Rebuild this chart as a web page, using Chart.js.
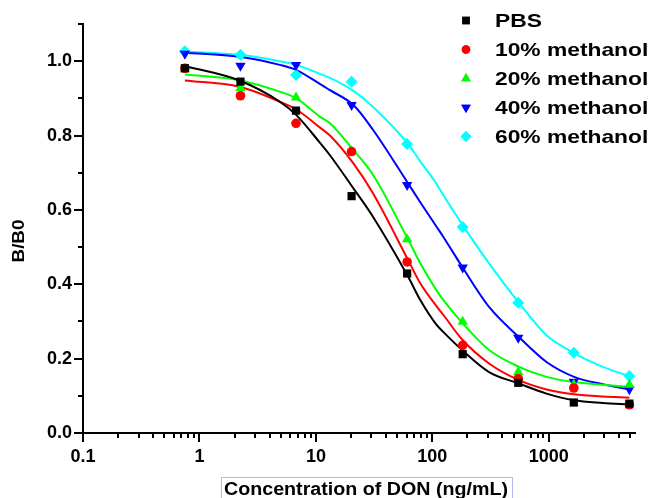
<!DOCTYPE html>
<html>
<head>
<meta charset="utf-8">
<script src="https://cdn.jsdelivr.net/npm/chart.js@4.4.1/dist/chart.umd.min.js"></script>
<style>
  html, body { margin: 0; padding: 0; background: #fff; }
  #wrap { width: 650px; height: 498px; position: relative; }
</style>
</head>
<body>
<div id="wrap"><canvas id="chart" width="650" height="498"></canvas></div>
<script>
// Measured concentrations (ng/mL) and B/B0 values
const concentrations = [0.75, 2.25, 6.75, 20.25, 60.75, 182.25, 546.75, 1640.25, 4920.75];
const pbs       = [0.981, 0.945, 0.867, 0.637, 0.429, 0.212, 0.135, 0.082, 0.079];
const meth10    = [0.981, 0.907, 0.833, 0.757, 0.460, 0.236, 0.146, 0.121, 0.076];
const meth20    = [0.978, 0.928, 0.902, 0.757, 0.521, 0.299, 0.164, 0.130, 0.130];
const meth40    = [1.020, 0.988, 0.990, 0.882, 0.667, 0.445, 0.256, 0.138, 0.118];
const meth60    = [1.027, 1.017, 0.963, 0.945, 0.777, 0.554, 0.350, 0.216, 0.153];

// Fitted curves
const curveX     = [0.75, 2.2, 4.9, 6.8, 10.8, 13.2, 21, 31, 62, 79, 108, 124, 182, 307, 554, 956, 1650, 2910, 4920];
const pbsFit     = [0.987, 0.948, 0.891, 0.855, 0.781, 0.747, 0.658, 0.581, 0.420, 0.357, 0.292, 0.272, 0.222, 0.164, 0.133, 0.106, 0.088, 0.081, 0.077];
const meth10Fit  = [0.948, 0.931, 0.891, 0.870, 0.822, 0.800, 0.725, 0.644, 0.465, 0.402, 0.342, 0.318, 0.250, 0.187, 0.142, 0.117, 0.104, 0.098, 0.095];
const meth20Fit  = [0.964, 0.949, 0.918, 0.900, 0.851, 0.833, 0.761, 0.694, 0.520, 0.456, 0.385, 0.358, 0.295, 0.223, 0.178, 0.151, 0.137, 0.130, 0.124];
const meth40Fit  = [1.023, 1.012, 0.990, 0.976, 0.939, 0.922, 0.882, 0.815, 0.671, 0.620, 0.556, 0.528, 0.445, 0.339, 0.258, 0.191, 0.151, 0.131, 0.117];
const meth60Fit  = [1.026, 1.017, 1.000, 0.990, 0.966, 0.955, 0.920, 0.877, 0.777, 0.730, 0.671, 0.640, 0.559, 0.456, 0.350, 0.263, 0.215, 0.178, 0.153];

const seriesNames = ['PBS', '10% methanol', '20% methanol', '40% methanol', '60% methanol'];
const xTickLabels = ['0.1', '1', '10', '100', '1000'];
const yTickLabels = ['0.0', '0.2', '0.4', '0.6', '0.8', '1.0'];

const colors = ['#000000', '#ff0000', '#00ff00', '#0000ff', '#00ffff'];
const styles = [
    { pointStyle: 'rect', radius: 5.8, rotation: 0 },
    { pointStyle: 'circle', radius: 4.8, rotation: 0 },
    { pointStyle: 'triangle', radius: 6, rotation: 0 },
    { pointStyle: 'triangle', radius: 6, rotation: 180 },
    { pointStyle: 'rectRot', radius: 6, rotation: 0 }
];

const pointSets = [pbs, meth10, meth20, meth40, meth60];
const fitSets = [pbsFit, meth10Fit, meth20Fit, meth40Fit, meth60Fit];

const toXY = (xs, ys) => xs.map((x, i) => ({ x: x, y: ys[i] }));

const datasets = [];
fitSets.forEach((fit, i) => {
    datasets.push({
        label: seriesNames[i] + ' fit',
        data: toXY(curveX, fit),
        showLine: true,
        borderColor: colors[i],
        borderWidth: 2,
        pointRadius: 0,
        cubicInterpolationMode: 'monotone',
        order: 2
    });
});
pointSets.forEach((vals, i) => {
    datasets.push({
        label: seriesNames[i],
        data: toXY(concentrations, vals),
        showLine: false,
        backgroundColor: colors[i],
        borderColor: colors[i],
        borderWidth: 0,
        pointStyle: styles[i].pointStyle,
        pointRadius: styles[i].radius,
        pointRotation: styles[i].rotation,
        order: 1
    });
});

const FONT = 'Liberation Sans, Arial, sans-serif';

// text squeezed/stretched horizontally to the width seen in the original
function wideText(ctx, text, x, y, width, align) {
    const w = ctx.measureText(text).width;
    const sx = width / w;
    ctx.save();
    ctx.translate(x, y);
    ctx.scale(sx, 1);
    ctx.textAlign = align;
    ctx.fillText(text, 0, 0);
    ctx.restore();
}

// Ticks, axis titles and legend drawn on top
const decorations = {
    id: 'decorations',
    afterDraw(chart) {
        const ctx = chart.ctx;
        const xs = chart.scales.x;
        const ys = chart.scales.y;
        const area = chart.chartArea;
        ctx.save();
        ctx.strokeStyle = '#000';
        ctx.lineWidth = 2;

        // y ticks
        for (let k = 0; k <= 11; k++) {
            const py = Math.round(ys.getPixelForValue(k / 10));
            const len = k % 2 === 0 ? 9 : 5;
            ctx.beginPath();
            ctx.moveTo(area.left, py);
            ctx.lineTo(area.left - len, py);
            ctx.stroke();
        }
        // x ticks (log)
        for (let d = -1; d <= 3; d++) {
            for (let m = 1; m <= 9; m++) {
                const v = m * Math.pow(10, d);
                if (v > xs.max) break;
                const px = Math.round(xs.getPixelForValue(v));
                const len = m === 1 ? 9 : 5;
                ctx.beginPath();
                ctx.moveTo(px, area.bottom);
                ctx.lineTo(px, area.bottom + len);
                ctx.stroke();
            }
        }

        // axis titles
        ctx.fillStyle = '#000';
        ctx.textBaseline = 'middle';
        ctx.font = 'bold 17px ' + FONT;
        ctx.save();
        ctx.translate(19, 241);
        ctx.rotate(-Math.PI / 2);
        wideText(ctx, 'B/B0', 0, 0, 43, 'center');
        ctx.restore();

        ctx.font = 'bold 18px ' + FONT;
        wideText(ctx, 'Concentration of DON (ng/mL)', 366, 490, 284, 'center');
        ctx.strokeStyle = '#b4b4ff';
        ctx.lineWidth = 1;
        ctx.strokeRect(221.5, 477.5, 291, 26);

        // legend
        ctx.font = 'bold 19px ' + FONT;
        seriesNames.forEach((name, i) => {
            const cy = 20.5 + i * 29;
            ctx.fillStyle = colors[i];
            Chart.helpers.drawPoint(ctx, {
                pointStyle: styles[i].pointStyle,
                radius: styles[i].radius - 0.5,
                rotation: styles[i].rotation,
                borderWidth: 0
            }, 466, cy);
            ctx.fill();
            ctx.fillStyle = '#000';
            const w = ctx.measureText(name).width * 1.2;
            wideText(ctx, name, 495, cy + 1, w, 'left');
        });
        ctx.restore();
    }
};

new Chart(document.getElementById('chart'), {
    type: 'scatter',
    data: { datasets: datasets },
    options: {
        responsive: false,
        animation: false,
        layout: { padding: { top: 24, right: 15, left: 0, bottom: 0 } },
        plugins: {
            legend: { display: false },
            tooltip: { enabled: false }
        },
        scales: {
            x: {
                type: 'logarithmic',
                min: 0.1,
                max: 5500,
                grid: { display: false, drawTicks: false },
                border: { display: true, color: '#000', width: 2 },
                ticks: {
                    autoSkip: false,
                    maxRotation: 0,
                    padding: 13,
                    color: '#000',
                    font: { family: FONT, size: 18, weight: 'bold' },
                    callback: function (value) {
                        const p = Math.log10(value);
                        if (Math.abs(p - Math.round(p)) < 1e-9) {
                            return xTickLabels[Math.round(p) + 1] || '';
                        }
                        return '';
                    }
                },
                afterFit: function (scale) { scale.height = 65; }
            },
            y: {
                min: 0,
                max: 1.1,
                grid: { display: false, drawTicks: false },
                border: { display: true, color: '#000', width: 2 },
                ticks: {
                    stepSize: 0.1,
                    padding: 11,
                    color: '#000',
                    font: { family: FONT, size: 18, weight: 'bold' },
                    callback: function (value) {
                        const k = Math.round(value * 10);
                        if (k % 2 === 0 && k <= 10) return yTickLabels[k / 2];
                        return '';
                    }
                },
                afterFit: function (scale) { scale.width = 83; }
            }
        }
    },
    plugins: [decorations]
});
</script>
</body>
</html>
